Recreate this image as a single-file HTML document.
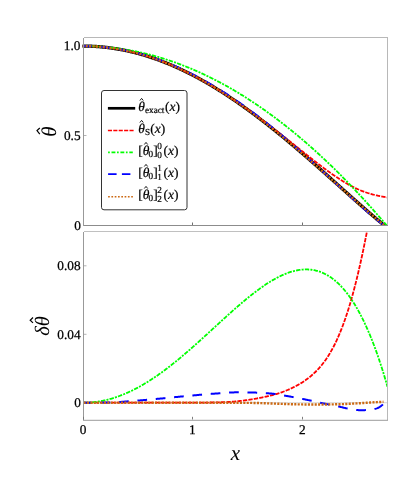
<!DOCTYPE html>
<html><head><meta charset="utf-8">
<style>
html,body{margin:0;padding:0;background:#fff;}
body{width:407px;height:499px;overflow:hidden;font-family:"Liberation Serif",serif;}
svg{display:block;will-change:transform;transform:translateZ(0);}
text{text-rendering:geometricPrecision;}
text{font-family:"Liberation Serif",serif;fill:#000;}
.tk{font-size:13.3px;stroke:#000;stroke-width:0.25px;}
.it{font-style:italic;}
</style></head><body>
<svg width="407" height="499" viewBox="0 0 407 499">
<defs>
<clipPath id="ct"><rect x="82.3" y="37.5" width="305.4" height="188.6"/></clipPath>
<clipPath id="cb"><rect x="83.5" y="231.5" width="304" height="188.5"/></clipPath>
</defs>
<rect width="407" height="499" fill="#fff"/>
<!-- top panel curves -->
<g clip-path="url(#ct)" fill="none" stroke-linejoin="round">
<path d="M82.3,46.10 L83.50,46.10 L84.26,46.10 L85.01,46.11 L85.77,46.11 L86.53,46.12 L87.29,46.14 L88.04,46.15 L88.80,46.17 L89.56,46.19 L90.31,46.22 L91.07,46.24 L91.83,46.27 L92.58,46.31 L93.34,46.34 L94.10,46.38 L94.86,46.42 L95.61,46.47 L96.37,46.51 L97.13,46.56 L97.88,46.62 L98.64,46.67 L99.40,46.73 L100.16,46.79 L100.91,46.86 L101.67,46.93 L102.43,47.00 L103.18,47.07 L103.94,47.14 L104.70,47.22 L105.45,47.31 L106.21,47.39 L106.97,47.48 L107.73,47.57 L108.48,47.66 L109.24,47.76 L110.00,47.85 L110.75,47.96 L111.51,48.06 L112.27,48.17 L113.03,48.28 L113.78,48.39 L114.54,48.51 L115.30,48.63 L116.05,48.75 L116.81,48.87 L117.57,49.00 L118.33,49.13 L119.08,49.26 L119.84,49.40 L120.60,49.53 L121.35,49.68 L122.11,49.82 L122.87,49.97 L123.62,50.12 L124.38,50.27 L125.14,50.42 L125.90,50.58 L126.65,50.74 L127.41,50.91 L128.17,51.07 L128.92,51.24 L129.68,51.41 L130.44,51.59 L131.20,51.77 L131.95,51.95 L132.71,52.13 L133.47,52.32 L134.22,52.50 L134.98,52.70 L135.74,52.89 L136.49,53.09 L137.25,53.29 L138.01,53.49 L138.77,53.70 L139.52,53.90 L140.28,54.11 L141.04,54.33 L141.79,54.54 L142.55,54.76 L143.31,54.99 L144.07,55.21 L144.82,55.44 L145.58,55.67 L146.34,55.90 L147.09,56.14 L147.85,56.37 L148.61,56.62 L149.36,56.86 L150.12,57.11 L150.88,57.35 L151.64,57.61 L152.39,57.86 L153.15,58.12 L153.91,58.38 L154.66,58.64 L155.42,58.91 L156.18,59.17 L156.94,59.44 L157.69,59.72 L158.45,59.99 L159.21,60.27 L159.96,60.55 L160.72,60.84 L161.48,61.12 L162.24,61.41 L162.99,61.71 L163.75,62.00 L164.51,62.30 L165.26,62.60 L166.02,62.90 L166.78,63.20 L167.53,63.51 L168.29,63.82 L169.05,64.14 L169.81,64.45 L170.56,64.77 L171.32,65.09 L172.08,65.41 L172.83,65.74 L173.59,66.07 L174.35,66.40 L175.11,66.73 L175.86,67.07 L176.62,67.41 L177.38,67.75 L178.13,68.09 L178.89,68.44 L179.65,68.79 L180.40,69.14 L181.16,69.49 L181.92,69.85 L182.68,70.21 L183.43,70.57 L184.19,70.93 L184.95,71.30 L185.70,71.67 L186.46,72.04 L187.22,72.41 L187.98,72.79 L188.73,73.17 L189.49,73.55 L190.25,73.93 L191.00,74.32 L191.76,74.71 L192.52,75.10 L193.27,75.49 L194.03,75.89 L194.79,76.29 L195.55,76.69 L196.30,77.09 L197.06,77.50 L197.82,77.91 L198.57,78.32 L199.33,78.73 L200.09,79.14 L200.85,79.56 L201.60,79.98 L202.36,80.40 L203.12,80.83 L203.87,81.25 L204.63,81.68 L205.39,82.12 L206.14,82.55 L206.90,82.99 L207.66,83.42 L208.42,83.86 L209.17,84.31 L209.93,84.75 L210.69,85.20 L211.44,85.65 L212.20,86.10 L212.96,86.56 L213.72,87.01 L214.47,87.47 L215.23,87.93 L215.99,88.40 L216.74,88.86 L217.50,89.33 L218.26,89.80 L219.02,90.27 L219.77,90.75 L220.53,91.22 L221.29,91.70 L222.04,92.18 L222.80,92.67 L223.56,93.15 L224.31,93.64 L225.07,94.13 L225.83,94.62 L226.59,95.11 L227.34,95.61 L228.10,96.11 L228.86,96.61 L229.61,97.11 L230.37,97.61 L231.13,98.12 L231.89,98.63 L232.64,99.14 L233.40,99.65 L234.16,100.17 L234.91,100.68 L235.67,101.20 L236.43,101.72 L237.18,102.24 L237.94,102.77 L238.70,103.29 L239.46,103.82 L240.21,104.35 L240.97,104.88 L241.73,105.42 L242.48,105.95 L243.24,106.49 L244.00,107.03 L244.76,107.57 L245.51,108.12 L246.27,108.66 L247.03,109.21 L247.78,109.76 L248.54,110.31 L249.30,110.86 L250.05,111.42 L250.81,111.97 L251.57,112.53 L252.33,113.09 L253.08,113.65 L253.84,114.22 L254.60,114.78 L255.35,115.35 L256.11,115.92 L256.87,116.49 L257.63,117.06 L258.38,117.64 L259.14,118.21 L259.90,118.79 L260.65,119.37 L261.41,119.95 L262.17,120.53 L262.92,121.11 L263.68,121.70 L264.44,122.29 L265.20,122.88 L265.95,123.47 L266.71,124.06 L267.47,124.65 L268.22,125.25 L268.98,125.84 L269.74,126.44 L270.50,127.04 L271.25,127.64 L272.01,128.25 L272.77,128.85 L273.52,129.46 L274.28,130.06 L275.04,130.67 L275.80,131.28 L276.55,131.89 L277.31,132.51 L278.07,133.12 L278.82,133.74 L279.58,134.35 L280.34,134.97 L281.09,135.59 L281.85,136.21 L282.61,136.84 L283.37,137.46 L284.12,138.09 L284.88,138.71 L285.64,139.34 L286.39,139.97 L287.15,140.60 L287.91,141.23 L288.67,141.86 L289.42,142.50 L290.18,143.13 L290.94,143.77 L291.69,144.41 L292.45,145.04 L293.21,145.68 L293.96,146.32 L294.72,146.97 L295.48,147.61 L296.24,148.25 L296.99,148.90 L297.75,149.55 L298.51,150.19 L299.26,150.84 L300.02,151.49 L300.78,152.14 L301.54,152.79 L302.29,153.44 L303.05,154.10 L303.81,154.75 L304.56,155.41 L305.32,156.06 L306.08,156.72 L306.83,157.37 L307.59,158.03 L308.35,158.69 L309.11,159.35 L309.86,160.01 L310.62,160.67 L311.38,161.34 L312.13,162.00 L312.89,162.66 L313.65,163.33 L314.41,163.99 L315.16,164.66 L315.92,165.33 L316.68,165.99 L317.43,166.66 L318.19,167.33 L318.95,168.00 L319.71,168.67 L320.46,169.34 L321.22,170.01 L321.98,170.68 L322.73,171.35 L323.49,172.02 L324.25,172.70 L325.00,173.37 L325.76,174.04 L326.52,174.72 L327.28,175.39 L328.03,176.07 L328.79,176.74 L329.55,177.42 L330.30,178.09 L331.06,178.77 L331.82,179.44 L332.58,180.12 L333.33,180.80 L334.09,181.47 L334.85,182.15 L335.60,182.83 L336.36,183.50 L337.12,184.18 L337.87,184.86 L338.63,185.54 L339.39,186.21 L340.15,186.89 L340.90,187.57 L341.66,188.25 L342.42,188.92 L343.17,189.60 L343.93,190.28 L344.69,190.95 L345.45,191.63 L346.20,192.31 L346.96,192.98 L347.72,193.66 L348.47,194.34 L349.23,195.01 L349.99,195.69 L350.74,196.36 L351.50,197.04 L352.26,197.71 L353.02,198.39 L353.77,199.06 L354.53,199.73 L355.29,200.41 L356.04,201.08 L356.80,201.75 L357.56,202.42 L358.32,203.09 L359.07,203.76 L359.83,204.43 L360.59,205.10 L361.34,205.77 L362.10,206.43 L362.86,207.10 L363.61,207.76 L364.37,208.43 L365.13,209.09 L365.89,209.75 L366.64,210.42 L367.40,211.08 L368.16,211.74 L368.91,212.39 L369.67,213.05 L370.43,213.71 L371.19,214.36 L371.94,215.01 L372.70,215.67 L373.46,216.32 L374.21,216.97 L374.97,217.61 L375.73,218.26 L376.49,218.90 L377.24,219.55 L378.00,220.19 L378.76,220.83 L379.51,221.46 L380.27,222.10 L381.03,222.73 L381.78,223.36 L382.54,223.99 L383.30,224.62 L384.06,225.24 L384.81,225.86 L385.57,226.48" stroke="#000" stroke-width="3.3"/>
<path d="M82.3,46.10 L83.50,46.10 L84.26,46.10 L85.02,46.11 L85.79,46.11 L86.55,46.12 L87.31,46.14 L88.07,46.15 L88.83,46.17 L89.60,46.19 L90.36,46.22 L91.12,46.25 L91.88,46.28 L92.64,46.31 L93.40,46.35 L94.17,46.38 L94.93,46.43 L95.69,46.47 L96.45,46.52 L97.21,46.57 L97.98,46.62 L98.74,46.68 L99.50,46.74 L100.26,46.80 L101.02,46.87 L101.79,46.94 L102.55,47.01 L103.31,47.08 L104.07,47.16 L104.83,47.24 L105.60,47.32 L106.36,47.41 L107.12,47.49 L107.88,47.59 L108.64,47.68 L109.40,47.78 L110.17,47.88 L110.93,47.98 L111.69,48.09 L112.45,48.19 L113.21,48.31 L113.98,48.42 L114.74,48.54 L115.50,48.66 L116.26,48.78 L117.02,48.91 L117.79,49.03 L118.55,49.17 L119.31,49.30 L120.07,49.44 L120.83,49.58 L121.60,49.72 L122.36,49.87 L123.12,50.02 L123.88,50.17 L124.64,50.32 L125.40,50.48 L126.17,50.64 L126.93,50.80 L127.69,50.97 L128.45,51.14 L129.21,51.31 L129.98,51.48 L130.74,51.66 L131.50,51.84 L132.26,52.02 L133.02,52.21 L133.79,52.40 L134.55,52.59 L135.31,52.78 L136.07,52.98 L136.83,53.18 L137.60,53.38 L138.36,53.58 L139.12,53.79 L139.88,54.00 L140.64,54.22 L141.40,54.43 L142.17,54.65 L142.93,54.87 L143.69,55.10 L144.45,55.33 L145.21,55.56 L145.98,55.79 L146.74,56.02 L147.50,56.26 L148.26,56.50 L149.02,56.75 L149.79,57.00 L150.55,57.24 L151.31,57.50 L152.07,57.75 L152.83,58.01 L153.60,58.27 L154.36,58.53 L155.12,58.80 L155.88,59.07 L156.64,59.34 L157.40,59.61 L158.17,59.89 L158.93,60.17 L159.69,60.45 L160.45,60.74 L161.21,61.02 L161.98,61.31 L162.74,61.61 L163.50,61.90 L164.26,62.20 L165.02,62.50 L165.79,62.80 L166.55,63.11 L167.31,63.42 L168.07,63.73 L168.83,64.05 L169.60,64.36 L170.36,64.68 L171.12,65.00 L171.88,65.33 L172.64,65.65 L173.40,65.98 L174.17,66.32 L174.93,66.65 L175.69,66.99 L176.45,67.33 L177.21,67.67 L177.98,68.02 L178.74,68.37 L179.50,68.72 L180.26,69.07 L181.02,69.43 L181.79,69.78 L182.55,70.14 L183.31,70.51 L184.07,70.87 L184.83,71.24 L185.60,71.61 L186.36,71.99 L187.12,72.36 L187.88,72.74 L188.64,73.12 L189.40,73.50 L190.17,73.89 L190.93,74.28 L191.69,74.67 L192.45,75.06 L193.21,75.46 L193.98,75.85 L194.74,76.26 L195.50,76.66 L196.26,77.06 L197.02,77.47 L197.79,77.88 L198.55,78.29 L199.31,78.71 L200.07,79.13 L200.83,79.55 L201.60,79.97 L202.36,80.39 L203.12,80.82 L203.88,81.25 L204.64,81.68 L205.40,82.11 L206.17,82.55 L206.93,82.99 L207.69,83.43 L208.45,83.87 L209.21,84.31 L209.98,84.76 L210.74,85.21 L211.50,85.66 L212.26,86.12 L213.02,86.57 L213.79,87.03 L214.55,87.49 L215.31,87.95 L216.07,88.42 L216.83,88.89 L217.60,89.36 L218.36,89.83 L219.12,90.30 L219.88,90.78 L220.64,91.25 L221.40,91.73 L222.17,92.21 L222.93,92.70 L223.69,93.18 L224.45,93.67 L225.21,94.16 L225.98,94.65 L226.74,95.15 L227.50,95.64 L228.26,96.14 L229.02,96.64 L229.79,97.14 L230.55,97.64 L231.31,98.15 L232.07,98.65 L232.83,99.16 L233.60,99.67 L234.36,100.18 L235.12,100.69 L235.88,101.21 L236.64,101.73 L237.40,102.24 L238.17,102.76 L238.93,103.29 L239.69,103.81 L240.45,104.33 L241.21,104.86 L241.98,105.39 L242.74,105.92 L243.50,106.45 L244.26,106.98 L245.02,107.52 L245.79,108.06 L246.55,108.59 L247.31,109.13 L248.07,109.68 L248.83,110.22 L249.60,110.76 L250.36,111.31 L251.12,111.86 L251.88,112.41 L252.64,112.96 L253.40,113.51 L254.17,114.07 L254.93,114.62 L255.69,115.18 L256.45,115.74 L257.21,116.30 L257.98,116.86 L258.74,117.42 L259.50,117.99 L260.26,118.56 L261.02,119.12 L261.79,119.69 L262.55,120.26 L263.31,120.84 L264.07,121.41 L264.83,121.98 L265.60,122.56 L266.36,123.14 L267.12,123.72 L267.88,124.30 L268.64,124.88 L269.40,125.46 L270.17,126.04 L270.93,126.63 L271.69,127.21 L272.45,127.80 L273.21,128.39 L273.98,128.98 L274.74,129.57 L275.50,130.16 L276.26,130.75 L277.02,131.34 L277.79,131.94 L278.55,132.53 L279.31,133.13 L280.07,133.72 L280.83,134.32 L281.60,134.92 L282.36,135.51 L283.12,136.11 L283.88,136.71 L284.64,137.31 L285.40,137.91 L286.17,138.51 L286.93,139.11 L287.69,139.72 L288.45,140.32 L289.21,140.92 L289.98,141.53 L290.74,142.13 L291.50,142.73 L292.26,143.34 L293.02,143.94 L293.79,144.55 L294.55,145.15 L295.31,145.76 L296.07,146.36 L296.83,146.97 L297.60,147.58 L298.36,148.18 L299.12,148.79 L299.88,149.39 L300.64,150.00 L301.40,150.61 L302.17,151.21 L302.93,151.82 L303.69,152.42 L304.45,153.03 L305.21,153.63 L305.98,154.24 L306.74,154.84 L307.50,155.44 L308.26,156.05 L309.02,156.65 L309.79,157.25 L310.55,157.85 L311.31,158.45 L312.07,159.05 L312.83,159.65 L313.60,160.24 L314.36,160.84 L315.12,161.43 L315.88,162.02 L316.64,162.62 L317.40,163.21 L318.17,163.79 L318.93,164.38 L319.69,164.96 L320.45,165.55 L321.21,166.13 L321.98,166.70 L322.74,167.28 L323.50,167.85 L324.26,168.42 L325.02,168.99 L325.79,169.56 L326.55,170.12 L327.31,170.68 L328.07,171.23 L328.83,171.79 L329.60,172.34 L330.36,172.88 L331.12,173.42 L331.88,173.96 L332.64,174.50 L333.40,175.03 L334.17,175.55 L334.93,176.07 L335.69,176.59 L336.45,177.11 L337.21,177.61 L337.98,178.12 L338.74,178.62 L339.50,179.11 L340.26,179.60 L341.02,180.09 L341.79,180.57 L342.55,181.04 L343.31,181.51 L344.07,181.97 L344.83,182.43 L345.60,182.88 L346.36,183.32 L347.12,183.76 L347.88,184.19 L348.64,184.62 L349.40,185.04 L350.17,185.45 L350.93,185.86 L351.69,186.26 L352.45,186.65 L353.21,187.04 L353.98,187.42 L354.74,187.79 L355.50,188.16 L356.26,188.51 L357.02,188.86 L357.79,189.21 L358.55,189.54 L359.31,189.87 L360.07,190.19 L360.83,190.51 L361.60,190.82 L362.36,191.12 L363.12,191.41 L363.88,191.69 L364.64,191.97 L365.40,192.24 L366.17,192.50 L366.93,192.76 L367.69,193.01 L368.45,193.25 L369.21,193.48 L369.98,193.71 L370.74,193.93 L371.50,194.14 L372.26,194.35 L373.02,194.55 L373.79,194.75 L374.55,194.93 L375.31,195.12 L376.07,195.30 L376.83,195.47 L377.60,195.63 L378.36,195.80 L379.12,195.95 L379.88,196.11 L380.64,196.26 L381.40,196.40 L382.17,196.55 L382.93,196.68 L383.69,196.82 L384.45,196.95 L385.21,197.09 L385.98,197.22 L386.74,197.36 L387.50,197.50" stroke="#ff0000" stroke-width="1.8" stroke-dasharray="4.3 1.2"/>
<path d="M82.3,46.10 L83.50,46.10 L84.26,46.10 L85.02,46.10 L85.79,46.11 L86.55,46.12 L87.31,46.13 L88.07,46.14 L88.83,46.16 L89.60,46.17 L90.36,46.19 L91.12,46.21 L91.88,46.24 L92.64,46.26 L93.40,46.29 L94.17,46.32 L94.93,46.35 L95.69,46.39 L96.45,46.43 L97.21,46.47 L97.98,46.51 L98.74,46.55 L99.50,46.60 L100.26,46.65 L101.02,46.70 L101.79,46.75 L102.55,46.81 L103.31,46.87 L104.07,46.93 L104.83,46.99 L105.60,47.05 L106.36,47.12 L107.12,47.19 L107.88,47.26 L108.64,47.33 L109.40,47.41 L110.17,47.49 L110.93,47.57 L111.69,47.65 L112.45,47.73 L113.21,47.82 L113.98,47.91 L114.74,48.00 L115.50,48.10 L116.26,48.19 L117.02,48.29 L117.79,48.39 L118.55,48.50 L119.31,48.60 L120.07,48.71 L120.83,48.82 L121.60,48.93 L122.36,49.05 L123.12,49.16 L123.88,49.28 L124.64,49.40 L125.40,49.53 L126.17,49.65 L126.93,49.78 L127.69,49.91 L128.45,50.04 L129.21,50.18 L129.98,50.31 L130.74,50.45 L131.50,50.59 L132.26,50.74 L133.02,50.88 L133.79,51.03 L134.55,51.18 L135.31,51.34 L136.07,51.49 L136.83,51.65 L137.60,51.81 L138.36,51.97 L139.12,52.13 L139.88,52.30 L140.64,52.47 L141.40,52.64 L142.17,52.81 L142.93,52.99 L143.69,53.17 L144.45,53.35 L145.21,53.53 L145.98,53.72 L146.74,53.90 L147.50,54.09 L148.26,54.28 L149.02,54.48 L149.79,54.67 L150.55,54.87 L151.31,55.07 L152.07,55.27 L152.83,55.48 L153.60,55.69 L154.36,55.90 L155.12,56.11 L155.88,56.32 L156.64,56.54 L157.40,56.76 L158.17,56.98 L158.93,57.20 L159.69,57.43 L160.45,57.65 L161.21,57.88 L161.98,58.12 L162.74,58.35 L163.50,58.59 L164.26,58.83 L165.02,59.07 L165.79,59.31 L166.55,59.56 L167.31,59.81 L168.07,60.06 L168.83,60.31 L169.60,60.57 L170.36,60.82 L171.12,61.08 L171.88,61.34 L172.64,61.61 L173.40,61.87 L174.17,62.14 L174.93,62.41 L175.69,62.69 L176.45,62.96 L177.21,63.24 L177.98,63.52 L178.74,63.80 L179.50,64.09 L180.26,64.37 L181.02,64.66 L181.79,64.95 L182.55,65.25 L183.31,65.54 L184.07,65.84 L184.83,66.14 L185.60,66.44 L186.36,66.75 L187.12,67.06 L187.88,67.37 L188.64,67.68 L189.40,67.99 L190.17,68.31 L190.93,68.63 L191.69,68.95 L192.45,69.27 L193.21,69.60 L193.98,69.92 L194.74,70.25 L195.50,70.59 L196.26,70.92 L197.02,71.26 L197.79,71.60 L198.55,71.94 L199.31,72.28 L200.07,72.63 L200.83,72.97 L201.60,73.32 L202.36,73.68 L203.12,74.03 L203.88,74.39 L204.64,74.75 L205.40,75.11 L206.17,75.47 L206.93,75.84 L207.69,76.21 L208.45,76.58 L209.21,76.95 L209.98,77.33 L210.74,77.70 L211.50,78.08 L212.26,78.47 L213.02,78.85 L213.79,79.24 L214.55,79.63 L215.31,80.02 L216.07,80.41 L216.83,80.81 L217.60,81.20 L218.36,81.60 L219.12,82.01 L219.88,82.41 L220.64,82.82 L221.40,83.23 L222.17,83.64 L222.93,84.05 L223.69,84.47 L224.45,84.89 L225.21,85.31 L225.98,85.73 L226.74,86.15 L227.50,86.58 L228.26,87.01 L229.02,87.44 L229.79,87.88 L230.55,88.31 L231.31,88.75 L232.07,89.19 L232.83,89.64 L233.60,90.08 L234.36,90.53 L235.12,90.98 L235.88,91.43 L236.64,91.89 L237.40,92.34 L238.17,92.80 L238.93,93.26 L239.69,93.73 L240.45,94.19 L241.21,94.66 L241.98,95.13 L242.74,95.60 L243.50,96.08 L244.26,96.55 L245.02,97.03 L245.79,97.51 L246.55,98.00 L247.31,98.48 L248.07,98.97 L248.83,99.46 L249.60,99.96 L250.36,100.45 L251.12,100.95 L251.88,101.45 L252.64,101.95 L253.40,102.45 L254.17,102.96 L254.93,103.47 L255.69,103.98 L256.45,104.49 L257.21,105.01 L257.98,105.53 L258.74,106.05 L259.50,106.57 L260.26,107.09 L261.02,107.62 L261.79,108.15 L262.55,108.68 L263.31,109.21 L264.07,109.75 L264.83,110.29 L265.60,110.83 L266.36,111.37 L267.12,111.91 L267.88,112.46 L268.64,113.01 L269.40,113.56 L270.17,114.11 L270.93,114.67 L271.69,115.23 L272.45,115.79 L273.21,116.35 L273.98,116.92 L274.74,117.48 L275.50,118.05 L276.26,118.62 L277.02,119.20 L277.79,119.77 L278.55,120.35 L279.31,120.93 L280.07,121.52 L280.83,122.10 L281.60,122.69 L282.36,123.28 L283.12,123.87 L283.88,124.46 L284.64,125.06 L285.40,125.66 L286.17,126.26 L286.93,126.86 L287.69,127.47 L288.45,128.08 L289.21,128.69 L289.98,129.30 L290.74,129.91 L291.50,130.53 L292.26,131.15 L293.02,131.77 L293.79,132.39 L294.55,133.02 L295.31,133.65 L296.07,134.28 L296.83,134.91 L297.60,135.55 L298.36,136.18 L299.12,136.82 L299.88,137.46 L300.64,138.11 L301.40,138.75 L302.17,139.40 L302.93,140.05 L303.69,140.70 L304.45,141.36 L305.21,142.02 L305.98,142.68 L306.74,143.34 L307.50,144.00 L308.26,144.67 L309.02,145.34 L309.79,146.01 L310.55,146.68 L311.31,147.36 L312.07,148.04 L312.83,148.72 L313.60,149.40 L314.36,150.08 L315.12,150.77 L315.88,151.46 L316.64,152.15 L317.40,152.84 L318.17,153.54 L318.93,154.24 L319.69,154.94 L320.45,155.64 L321.21,156.35 L321.98,157.05 L322.74,157.76 L323.50,158.48 L324.26,159.19 L325.02,159.91 L325.79,160.63 L326.55,161.35 L327.31,162.07 L328.07,162.80 L328.83,163.52 L329.60,164.25 L330.36,164.99 L331.12,165.72 L331.88,166.46 L332.64,167.20 L333.40,167.94 L334.17,168.68 L334.93,169.43 L335.69,170.18 L336.45,170.93 L337.21,171.68 L337.98,172.44 L338.74,173.20 L339.50,173.96 L340.26,174.72 L341.02,175.48 L341.79,176.25 L342.55,177.02 L343.31,177.79 L344.07,178.56 L344.83,179.34 L345.60,180.12 L346.36,180.90 L347.12,181.68 L347.88,182.47 L348.64,183.26 L349.40,184.05 L350.17,184.84 L350.93,185.63 L351.69,186.43 L352.45,187.23 L353.21,188.03 L353.98,188.83 L354.74,189.64 L355.50,190.45 L356.26,191.26 L357.02,192.07 L357.79,192.89 L358.55,193.71 L359.31,194.53 L360.07,195.35 L360.83,196.17 L361.60,197.00 L362.36,197.83 L363.12,198.66 L363.88,199.49 L364.64,200.33 L365.40,201.17 L366.17,202.01 L366.93,202.85 L367.69,203.69 L368.45,204.54 L369.21,205.39 L369.98,206.24 L370.74,207.10 L371.50,207.95 L372.26,208.81 L373.02,209.67 L373.79,210.53 L374.55,211.40 L375.31,212.26 L376.07,213.13 L376.83,214.00 L377.60,214.87 L378.36,215.75 L379.12,216.63 L379.88,217.50 L380.64,218.38 L381.40,219.27 L382.17,220.15 L382.93,221.04 L383.69,221.92 L384.45,222.81 L385.21,223.70 L385.98,224.60 L386.74,225.50 L387.50,226.40" stroke="#00ff00" stroke-width="1.8" stroke-dasharray="4.4 1.2 2.0 1.2"/>
<path d="M82.3,46.10 L83.50,46.10 L84.26,46.10 L85.02,46.11 L85.79,46.11 L86.55,46.12 L87.31,46.14 L88.07,46.15 L88.83,46.17 L89.60,46.19 L90.36,46.22 L91.12,46.24 L91.88,46.27 L92.64,46.31 L93.40,46.34 L94.17,46.38 L94.93,46.42 L95.69,46.47 L96.45,46.51 L97.21,46.56 L97.98,46.62 L98.74,46.67 L99.50,46.73 L100.26,46.79 L101.02,46.86 L101.79,46.93 L102.55,47.00 L103.31,47.07 L104.07,47.15 L104.83,47.22 L105.60,47.31 L106.36,47.39 L107.12,47.48 L107.88,47.57 L108.64,47.66 L109.40,47.76 L110.17,47.86 L110.93,47.96 L111.69,48.06 L112.45,48.17 L113.21,48.28 L113.98,48.39 L114.74,48.50 L115.50,48.62 L116.26,48.73 L117.02,48.85 L117.79,48.98 L118.55,49.10 L119.31,49.23 L120.07,49.36 L120.83,49.50 L121.60,49.63 L122.36,49.77 L123.12,49.92 L123.88,50.06 L124.64,50.21 L125.40,50.36 L126.17,50.51 L126.93,50.67 L127.69,50.83 L128.45,50.99 L129.21,51.16 L129.98,51.32 L130.74,51.50 L131.50,51.67 L132.26,51.85 L133.02,52.03 L133.79,52.21 L134.55,52.39 L135.31,52.58 L136.07,52.77 L136.83,52.96 L137.60,53.16 L138.36,53.36 L139.12,53.56 L139.88,53.76 L140.64,53.97 L141.40,54.18 L142.17,54.39 L142.93,54.61 L143.69,54.82 L144.45,55.05 L145.21,55.27 L145.98,55.49 L146.74,55.72 L147.50,55.95 L148.26,56.19 L149.02,56.43 L149.79,56.67 L150.55,56.91 L151.31,57.15 L152.07,57.40 L152.83,57.65 L153.60,57.90 L154.36,58.16 L155.12,58.42 L155.88,58.68 L156.64,58.94 L157.40,59.21 L158.17,59.48 L158.93,59.75 L159.69,60.03 L160.45,60.30 L161.21,60.58 L161.98,60.87 L162.74,61.15 L163.50,61.44 L164.26,61.73 L165.02,62.02 L165.79,62.32 L166.55,62.62 L167.31,62.92 L168.07,63.22 L168.83,63.53 L169.60,63.84 L170.36,64.15 L171.12,64.46 L171.88,64.78 L172.64,65.10 L173.40,65.42 L174.17,65.74 L174.93,66.07 L175.69,66.40 L176.45,66.73 L177.21,67.07 L177.98,67.41 L178.74,67.75 L179.50,68.09 L180.26,68.43 L181.02,68.78 L181.79,69.13 L182.55,69.49 L183.31,69.84 L184.07,70.20 L184.83,70.56 L185.60,70.92 L186.36,71.29 L187.12,71.66 L187.88,72.03 L188.64,72.40 L189.40,72.78 L190.17,73.16 L190.93,73.54 L191.69,73.92 L192.45,74.31 L193.21,74.70 L193.98,75.09 L194.74,75.48 L195.50,75.88 L196.26,76.28 L197.02,76.68 L197.79,77.08 L198.55,77.49 L199.31,77.90 L200.07,78.31 L200.83,78.72 L201.60,79.13 L202.36,79.55 L203.12,79.97 L203.88,80.40 L204.64,80.82 L205.40,81.25 L206.17,81.68 L206.93,82.11 L207.69,82.55 L208.45,82.98 L209.21,83.42 L209.98,83.87 L210.74,84.31 L211.50,84.76 L212.26,85.21 L213.02,85.66 L213.79,86.11 L214.55,86.57 L215.31,87.03 L216.07,87.49 L216.83,87.95 L217.60,88.42 L218.36,88.89 L219.12,89.36 L219.88,89.83 L220.64,90.30 L221.40,90.78 L222.17,91.26 L222.93,91.74 L223.69,92.22 L224.45,92.70 L225.21,93.19 L225.98,93.68 L226.74,94.17 L227.50,94.67 L228.26,95.16 L229.02,95.66 L229.79,96.16 L230.55,96.67 L231.31,97.17 L232.07,97.68 L232.83,98.19 L233.60,98.71 L234.36,99.22 L235.12,99.74 L235.88,100.26 L236.64,100.78 L237.40,101.31 L238.17,101.83 L238.93,102.36 L239.69,102.90 L240.45,103.43 L241.21,103.97 L241.98,104.51 L242.74,105.05 L243.50,105.59 L244.26,106.14 L245.02,106.68 L245.79,107.23 L246.55,107.78 L247.31,108.34 L248.07,108.89 L248.83,109.45 L249.60,110.01 L250.36,110.57 L251.12,111.13 L251.88,111.70 L252.64,112.26 L253.40,112.83 L254.17,113.40 L254.93,113.97 L255.69,114.55 L256.45,115.12 L257.21,115.70 L257.98,116.28 L258.74,116.86 L259.50,117.45 L260.26,118.03 L261.02,118.62 L261.79,119.21 L262.55,119.80 L263.31,120.39 L264.07,120.99 L264.83,121.58 L265.60,122.18 L266.36,122.78 L267.12,123.39 L267.88,123.99 L268.64,124.60 L269.40,125.20 L270.17,125.81 L270.93,126.42 L271.69,127.04 L272.45,127.65 L273.21,128.27 L273.98,128.89 L274.74,129.51 L275.50,130.14 L276.26,130.76 L277.02,131.39 L277.79,132.02 L278.55,132.66 L279.31,133.29 L280.07,133.93 L280.83,134.57 L281.60,135.20 L282.36,135.84 L283.12,136.49 L283.88,137.13 L284.64,137.77 L285.40,138.42 L286.17,139.06 L286.93,139.71 L287.69,140.36 L288.45,141.01 L289.21,141.66 L289.98,142.32 L290.74,142.97 L291.50,143.63 L292.26,144.28 L293.02,144.94 L293.79,145.60 L294.55,146.26 L295.31,146.92 L296.07,147.59 L296.83,148.25 L297.60,148.92 L298.36,149.58 L299.12,150.25 L299.88,150.92 L300.64,151.59 L301.40,152.26 L302.17,152.93 L302.93,153.61 L303.69,154.28 L304.45,154.96 L305.21,155.63 L305.98,156.31 L306.74,156.99 L307.50,157.67 L308.26,158.35 L309.02,159.03 L309.79,159.71 L310.55,160.39 L311.31,161.08 L312.07,161.76 L312.83,162.45 L313.60,163.13 L314.36,163.82 L315.12,164.51 L315.88,165.20 L316.64,165.89 L317.40,166.58 L318.17,167.27 L318.93,167.96 L319.69,168.65 L320.45,169.34 L321.21,170.03 L321.98,170.73 L322.74,171.42 L323.50,172.11 L324.26,172.80 L325.02,173.49 L325.79,174.19 L326.55,174.88 L327.31,175.58 L328.07,176.27 L328.83,176.96 L329.60,177.66 L330.36,178.36 L331.12,179.05 L331.88,179.75 L332.64,180.44 L333.40,181.14 L334.17,181.84 L334.93,182.53 L335.69,183.23 L336.45,183.93 L337.21,184.63 L337.98,185.33 L338.74,186.03 L339.50,186.73 L340.26,187.43 L341.02,188.13 L341.79,188.83 L342.55,189.53 L343.31,190.23 L344.07,190.94 L344.83,191.64 L345.60,192.34 L346.36,193.03 L347.12,193.73 L347.88,194.43 L348.64,195.12 L349.40,195.82 L350.17,196.51 L350.93,197.20 L351.69,197.89 L352.45,198.59 L353.21,199.28 L353.98,199.97 L354.74,200.66 L355.50,201.34 L356.26,202.03 L357.02,202.71 L357.79,203.40 L358.55,204.08 L359.31,204.75 L360.07,205.43 L360.83,206.10 L361.60,206.77 L362.36,207.44 L363.12,208.11 L363.88,208.78 L364.64,209.44 L365.40,210.11 L366.17,210.77 L366.93,211.43 L367.69,212.10 L368.45,212.75 L369.21,213.41 L369.98,214.07 L370.74,214.72 L371.50,215.37 L372.26,216.01 L373.02,216.65 L373.79,217.29 L374.55,217.92 L375.31,218.55 L376.07,219.17 L376.83,219.79 L377.60,220.41 L378.36,221.01 L379.12,221.61 L379.88,222.20 L380.64,222.78 L381.40,223.36 L382.17,223.93 L382.93,224.49 L383.69,224.94 L384.45,225.57 L385.21,226.19 L385.98,226.82 L386.74,227.44 L387.50,228.07" stroke="#0000ff" stroke-width="2" stroke-dasharray="9.7 8.7"/>
<path d="M82.3,46.10 L83.50,46.10 L84.26,46.10 L85.02,46.11 L85.79,46.11 L86.55,46.12 L87.31,46.14 L88.07,46.15 L88.83,46.17 L89.60,46.19 L90.36,46.22 L91.12,46.25 L91.88,46.28 L92.64,46.31 L93.40,46.35 L94.17,46.38 L94.93,46.43 L95.69,46.47 L96.45,46.52 L97.21,46.57 L97.98,46.62 L98.74,46.68 L99.50,46.74 L100.26,46.80 L101.02,46.87 L101.79,46.94 L102.55,47.01 L103.31,47.08 L104.07,47.16 L104.83,47.24 L105.60,47.32 L106.36,47.41 L107.12,47.49 L107.88,47.59 L108.64,47.68 L109.40,47.78 L110.17,47.88 L110.93,47.98 L111.69,48.09 L112.45,48.19 L113.21,48.31 L113.98,48.42 L114.74,48.54 L115.50,48.66 L116.26,48.78 L117.02,48.91 L117.79,49.03 L118.55,49.17 L119.31,49.30 L120.07,49.44 L120.83,49.58 L121.60,49.72 L122.36,49.87 L123.12,50.02 L123.88,50.17 L124.64,50.32 L125.40,50.48 L126.17,50.64 L126.93,50.80 L127.69,50.97 L128.45,51.14 L129.21,51.31 L129.98,51.48 L130.74,51.66 L131.50,51.84 L132.26,52.02 L133.02,52.21 L133.79,52.40 L134.55,52.59 L135.31,52.78 L136.07,52.98 L136.83,53.18 L137.60,53.38 L138.36,53.58 L139.12,53.79 L139.88,54.00 L140.64,54.22 L141.40,54.43 L142.17,54.65 L142.93,54.87 L143.69,55.10 L144.45,55.33 L145.21,55.56 L145.98,55.79 L146.74,56.02 L147.50,56.26 L148.26,56.50 L149.02,56.75 L149.79,57.00 L150.55,57.25 L151.31,57.50 L152.07,57.75 L152.83,58.01 L153.60,58.27 L154.36,58.53 L155.12,58.80 L155.88,59.07 L156.64,59.34 L157.40,59.61 L158.17,59.89 L158.93,60.17 L159.69,60.45 L160.45,60.74 L161.21,61.02 L161.98,61.31 L162.74,61.61 L163.50,61.90 L164.26,62.20 L165.02,62.50 L165.79,62.81 L166.55,63.11 L167.31,63.42 L168.07,63.73 L168.83,64.05 L169.60,64.36 L170.36,64.68 L171.12,65.00 L171.88,65.33 L172.64,65.66 L173.40,65.99 L174.17,66.32 L174.93,66.65 L175.69,66.99 L176.45,67.33 L177.21,67.67 L177.98,68.02 L178.74,68.37 L179.50,68.72 L180.26,69.07 L181.02,69.43 L181.79,69.79 L182.55,70.15 L183.31,70.51 L184.07,70.88 L184.83,71.24 L185.60,71.61 L186.36,71.99 L187.12,72.36 L187.88,72.74 L188.64,73.12 L189.40,73.51 L190.17,73.89 L190.93,74.28 L191.69,74.67 L192.45,75.07 L193.21,75.46 L193.98,75.86 L194.74,76.26 L195.50,76.66 L196.26,77.07 L197.02,77.48 L197.79,77.89 L198.55,78.30 L199.31,78.72 L200.07,79.13 L200.83,79.55 L201.60,79.98 L202.36,80.40 L203.12,80.83 L203.88,81.26 L204.64,81.69 L205.40,82.13 L206.17,82.56 L206.93,83.00 L207.69,83.44 L208.45,83.89 L209.21,84.33 L209.98,84.78 L210.74,85.23 L211.50,85.69 L212.26,86.14 L213.02,86.60 L213.79,87.06 L214.55,87.52 L215.31,87.99 L216.07,88.45 L216.83,88.92 L217.60,89.39 L218.36,89.87 L219.12,90.34 L219.88,90.82 L220.64,91.30 L221.40,91.78 L222.17,92.27 L222.93,92.75 L223.69,93.24 L224.45,93.73 L225.21,94.23 L225.98,94.72 L226.74,95.22 L227.50,95.72 L228.26,96.22 L229.02,96.73 L229.79,97.23 L230.55,97.74 L231.31,98.25 L232.07,98.76 L232.83,99.28 L233.60,99.79 L234.36,100.31 L235.12,100.83 L235.88,101.36 L236.64,101.88 L237.40,102.41 L238.17,102.94 L238.93,103.47 L239.69,104.00 L240.45,104.53 L241.21,105.07 L241.98,105.61 L242.74,106.15 L243.50,106.69 L244.26,107.24 L245.02,107.78 L245.79,108.33 L246.55,108.88 L247.31,109.43 L248.07,109.99 L248.83,110.54 L249.60,111.10 L250.36,111.66 L251.12,112.22 L251.88,112.78 L252.64,113.35 L253.40,113.92 L254.17,114.49 L254.93,115.06 L255.69,115.63 L256.45,116.21 L257.21,116.78 L257.98,117.36 L258.74,117.94 L259.50,118.53 L260.26,119.11 L261.02,119.70 L261.79,120.28 L262.55,120.87 L263.31,121.46 L264.07,122.06 L264.83,122.65 L265.60,123.25 L266.36,123.85 L267.12,124.45 L267.88,125.05 L268.64,125.65 L269.40,126.25 L270.17,126.86 L270.93,127.47 L271.69,128.08 L272.45,128.69 L273.21,129.30 L273.98,129.91 L274.74,130.53 L275.50,131.14 L276.26,131.76 L277.02,132.38 L277.79,133.00 L278.55,133.62 L279.31,134.25 L280.07,134.87 L280.83,135.50 L281.60,136.12 L282.36,136.75 L283.12,137.38 L283.88,138.01 L284.64,138.65 L285.40,139.28 L286.17,139.92 L286.93,140.55 L287.69,141.19 L288.45,141.83 L289.21,142.47 L289.98,143.11 L290.74,143.76 L291.50,144.40 L292.26,145.05 L293.02,145.69 L293.79,146.34 L294.55,146.99 L295.31,147.64 L296.07,148.29 L296.83,148.94 L297.60,149.59 L298.36,150.24 L299.12,150.89 L299.88,151.55 L300.64,152.20 L301.40,152.86 L302.17,153.51 L302.93,154.17 L303.69,154.83 L304.45,155.49 L305.21,156.15 L305.98,156.81 L306.74,157.47 L307.50,158.14 L308.26,158.80 L309.02,159.47 L309.79,160.13 L310.55,160.80 L311.31,161.46 L312.07,162.13 L312.83,162.80 L313.60,163.47 L314.36,164.14 L315.12,164.81 L315.88,165.48 L316.64,166.15 L317.40,166.82 L318.17,167.50 L318.93,168.17 L319.69,168.84 L320.45,169.52 L321.21,170.19 L321.98,170.87 L322.74,171.54 L323.50,172.22 L324.26,172.90 L325.02,173.57 L325.79,174.25 L326.55,174.93 L327.31,175.60 L328.07,176.28 L328.83,176.96 L329.60,177.64 L330.36,178.32 L331.12,179.00 L331.88,179.67 L332.64,180.35 L333.40,181.03 L334.17,181.71 L334.93,182.39 L335.69,183.07 L336.45,183.75 L337.21,184.43 L337.98,185.11 L338.74,185.79 L339.50,186.47 L340.26,187.15 L341.02,187.83 L341.79,188.51 L342.55,189.19 L343.31,189.87 L344.07,190.55 L344.83,191.22 L345.60,191.90 L346.36,192.58 L347.12,193.26 L347.88,193.93 L348.64,194.61 L349.40,195.29 L350.17,195.96 L350.93,196.64 L351.69,197.31 L352.45,197.98 L353.21,198.66 L353.98,199.33 L354.74,200.00 L355.50,200.68 L356.26,201.35 L357.02,202.02 L357.79,202.69 L358.55,203.36 L359.31,204.03 L360.07,204.70 L360.83,205.36 L361.60,206.03 L362.36,206.70 L363.12,207.36 L363.88,208.02 L364.64,208.69 L365.40,209.35 L366.17,210.01 L366.93,210.67 L367.69,211.33 L368.45,211.98 L369.21,212.64 L369.98,213.30 L370.74,213.95 L371.50,214.60 L372.26,215.26 L373.02,215.91 L373.79,216.56 L374.55,217.20 L375.31,217.85 L376.07,218.50 L376.83,219.14 L377.60,219.78 L378.36,220.42 L379.12,221.06 L379.88,221.70 L380.64,222.33 L381.40,222.96 L382.17,223.59 L382.93,224.22 L383.69,224.94 L384.45,225.57 L385.21,226.19 L385.98,226.82 L386.74,227.44 L387.50,228.07" stroke="#cc6a14" stroke-width="2.4" stroke-dasharray="2.1 1.3"/>
</g>
<!-- bottom panel curves -->
<line x1="83.5" y1="402.7" x2="387.5" y2="402.7" stroke="#d8d8d8" stroke-width="1"/>
<g clip-path="url(#cb)" fill="none" stroke-linejoin="round">
<path d="M83.50,402.70 L84.26,402.70 L85.02,402.70 L85.79,402.70 L86.55,402.70 L87.31,402.70 L88.07,402.70 L88.83,402.70 L89.60,402.70 L90.36,402.70 L91.12,402.70 L91.88,402.70 L92.64,402.70 L93.40,402.70 L94.17,402.70 L94.93,402.70 L95.69,402.70 L96.45,402.70 L97.21,402.70 L97.98,402.70 L98.74,402.70 L99.50,402.70 L100.26,402.70 L101.02,402.70 L101.79,402.70 L102.55,402.70 L103.31,402.70 L104.07,402.70 L104.83,402.70 L105.60,402.70 L106.36,402.70 L107.12,402.70 L107.88,402.70 L108.64,402.70 L109.40,402.70 L110.17,402.70 L110.93,402.70 L111.69,402.70 L112.45,402.70 L113.21,402.70 L113.98,402.70 L114.74,402.70 L115.50,402.70 L116.26,402.70 L117.02,402.70 L117.79,402.70 L118.55,402.70 L119.31,402.70 L120.07,402.70 L120.83,402.70 L121.60,402.70 L122.36,402.70 L123.12,402.70 L123.88,402.70 L124.64,402.70 L125.40,402.70 L126.17,402.70 L126.93,402.70 L127.69,402.70 L128.45,402.70 L129.21,402.70 L129.98,402.70 L130.74,402.70 L131.50,402.70 L132.26,402.70 L133.02,402.70 L133.79,402.70 L134.55,402.70 L135.31,402.70 L136.07,402.70 L136.83,402.70 L137.60,402.70 L138.36,402.70 L139.12,402.70 L139.88,402.70 L140.64,402.70 L141.40,402.70 L142.17,402.70 L142.93,402.70 L143.69,402.70 L144.45,402.70 L145.21,402.70 L145.98,402.70 L146.74,402.70 L147.50,402.70 L148.26,402.70 L149.02,402.70 L149.79,402.70 L150.55,402.70 L151.31,402.70 L152.07,402.70 L152.83,402.70 L153.60,402.70 L154.36,402.70 L155.12,402.70 L155.88,402.70 L156.64,402.70 L157.40,402.70 L158.17,402.70 L158.93,402.70 L159.69,402.70 L160.45,402.70 L161.21,402.70 L161.98,402.70 L162.74,402.70 L163.50,402.69 L164.26,402.69 L165.02,402.69 L165.79,402.69 L166.55,402.69 L167.31,402.69 L168.07,402.69 L168.83,402.69 L169.60,402.69 L170.36,402.69 L171.12,402.69 L171.88,402.69 L172.64,402.69 L173.40,402.69 L174.17,402.69 L174.93,402.69 L175.69,402.69 L176.45,402.69 L177.21,402.69 L177.98,402.68 L178.74,402.68 L179.50,402.68 L180.26,402.68 L181.02,402.68 L181.79,402.68 L182.55,402.68 L183.31,402.68 L184.07,402.68 L184.83,402.67 L185.60,402.67 L186.36,402.67 L187.12,402.67 L187.88,402.67 L188.64,402.66 L189.40,402.66 L190.17,402.66 L190.93,402.66 L191.69,402.66 L192.45,402.65 L193.21,402.65 L193.98,402.65 L194.74,402.64 L195.50,402.64 L196.26,402.64 L197.02,402.63 L197.79,402.63 L198.55,402.63 L199.31,402.62 L200.07,402.62 L200.83,402.61 L201.60,402.61 L202.36,402.60 L203.12,402.59 L203.88,402.59 L204.64,402.58 L205.40,402.57 L206.17,402.57 L206.93,402.56 L207.69,402.55 L208.45,402.54 L209.21,402.53 L209.98,402.52 L210.74,402.51 L211.50,402.50 L212.26,402.49 L213.02,402.47 L213.79,402.46 L214.55,402.45 L215.31,402.43 L216.07,402.42 L216.83,402.40 L217.60,402.38 L218.36,402.36 L219.12,402.34 L219.88,402.32 L220.64,402.30 L221.40,402.27 L222.17,402.25 L222.93,402.22 L223.69,402.19 L224.45,402.16 L225.21,402.13 L225.98,402.09 L226.74,402.06 L227.50,402.02 L228.26,401.98 L229.02,401.94 L229.79,401.89 L230.55,401.84 L231.31,401.79 L232.07,401.74 L232.83,401.68 L233.60,401.62 L234.36,401.55 L235.12,401.48 L235.88,401.41 L236.64,401.34 L237.40,401.26 L238.17,401.18 L238.93,401.10 L239.69,401.01 L240.45,400.93 L241.21,400.84 L241.98,400.74 L242.74,400.65 L243.50,400.55 L244.26,400.45 L245.02,400.35 L245.79,400.24 L246.55,400.13 L247.31,400.02 L248.07,399.91 L248.83,399.80 L249.60,399.68 L250.36,399.56 L251.12,399.44 L251.88,399.32 L252.64,399.19 L253.40,399.06 L254.17,398.93 L254.93,398.80 L255.69,398.66 L256.45,398.53 L257.21,398.39 L257.98,398.25 L258.74,398.10 L259.50,397.96 L260.26,397.81 L261.02,397.66 L261.79,397.51 L262.55,397.35 L263.31,397.19 L264.07,397.03 L264.83,396.87 L265.60,396.70 L266.36,396.54 L267.12,396.37 L267.88,396.19 L268.64,396.01 L269.40,395.83 L270.17,395.65 L270.93,395.46 L271.69,395.27 L272.45,395.07 L273.21,394.87 L273.98,394.66 L274.74,394.45 L275.50,394.24 L276.26,394.02 L277.02,393.79 L277.79,393.56 L278.55,393.32 L279.31,393.08 L280.07,392.83 L280.83,392.57 L281.60,392.31 L282.36,392.04 L283.12,391.76 L283.88,391.48 L284.64,391.20 L285.40,390.90 L286.17,390.60 L286.93,390.29 L287.69,389.97 L288.45,389.65 L289.21,389.32 L289.98,388.98 L290.74,388.63 L291.50,388.28 L292.26,387.92 L293.02,387.55 L293.79,387.17 L294.55,386.78 L295.31,386.39 L296.07,385.99 L296.83,385.57 L297.60,385.15 L298.36,384.72 L299.12,384.28 L299.88,383.83 L300.64,383.37 L301.40,382.90 L302.17,382.42 L302.93,381.93 L303.69,381.43 L304.45,380.91 L305.21,380.39 L305.98,379.85 L306.74,379.30 L307.50,378.73 L308.26,378.15 L309.02,377.56 L309.79,376.95 L310.55,376.33 L311.31,375.69 L312.07,375.03 L312.83,374.36 L313.60,373.67 L314.36,372.96 L315.12,372.24 L315.88,371.49 L316.64,370.72 L317.40,369.94 L318.17,369.13 L318.93,368.30 L319.69,367.44 L320.45,366.56 L321.21,365.66 L321.98,364.73 L322.74,363.77 L323.50,362.79 L324.26,361.77 L325.02,360.73 L325.79,359.65 L326.55,358.54 L327.31,357.40 L328.07,356.23 L328.83,355.02 L329.60,353.77 L330.36,352.49 L331.12,351.17 L331.88,349.81 L332.64,348.41 L333.40,346.98 L334.17,345.50 L334.93,343.98 L335.69,342.42 L336.45,340.81 L337.21,339.16 L337.98,337.46 L338.74,335.72 L339.50,333.93 L340.26,332.09 L341.02,330.20 L341.79,328.26 L342.55,326.28 L343.31,324.23 L344.07,322.14 L344.83,319.99 L345.60,317.79 L346.36,315.53 L347.12,313.22 L347.88,310.85 L348.64,308.42 L349.40,305.94 L350.17,303.39 L350.93,300.79 L351.69,298.12 L352.45,295.39 L353.21,292.61 L353.98,289.76 L354.74,286.84 L355.50,283.87 L356.26,280.83 L357.02,277.73 L357.79,274.56 L358.55,271.33 L359.31,268.04 L360.07,264.68 L360.83,261.26 L361.60,257.78 L362.36,254.23 L363.12,250.62 L363.88,246.95 L364.64,243.21 L365.40,239.42 L366.17,235.56 L366.93,231.65 L367.69,227.68 L368.45,223.65 L369.21,219.56 L369.98,215.42 L370.74,211.23 L371.50,206.98 L372.26,202.69 L373.02,198.35 L373.79,193.97 L374.55,189.54 L375.31,185.07 L376.07,180.56 L376.83,176.02 L377.60,171.45 L378.36,166.84 L379.12,162.21 L379.88,157.56 L380.64,152.89 L381.40,148.21 L382.17,143.51 L382.93,138.81 L383.69,134.10 L384.45,129.39 L385.21,124.69 L385.98,120.00 L386.74,115.33 L387.50,110.67" stroke="#ff0000" stroke-width="1.8" stroke-dasharray="4.3 1.2"/>
<path d="M83.50,402.70 L84.26,402.70 L85.02,402.69 L85.79,402.67 L86.55,402.65 L87.31,402.62 L88.07,402.59 L88.83,402.55 L89.60,402.50 L90.36,402.45 L91.12,402.39 L91.88,402.33 L92.64,402.26 L93.40,402.18 L94.17,402.10 L94.93,402.01 L95.69,401.92 L96.45,401.82 L97.21,401.71 L97.98,401.60 L98.74,401.48 L99.50,401.35 L100.26,401.22 L101.02,401.08 L101.79,400.94 L102.55,400.79 L103.31,400.64 L104.07,400.48 L104.83,400.31 L105.60,400.14 L106.36,399.96 L107.12,399.77 L107.88,399.58 L108.64,399.38 L109.40,399.18 L110.17,398.97 L110.93,398.76 L111.69,398.54 L112.45,398.31 L113.21,398.08 L113.98,397.84 L114.74,397.60 L115.50,397.35 L116.26,397.09 L117.02,396.83 L117.79,396.57 L118.55,396.30 L119.31,396.02 L120.07,395.73 L120.83,395.44 L121.60,395.15 L122.36,394.85 L123.12,394.54 L123.88,394.23 L124.64,393.91 L125.40,393.59 L126.17,393.26 L126.93,392.93 L127.69,392.59 L128.45,392.25 L129.21,391.90 L129.98,391.54 L130.74,391.18 L131.50,390.82 L132.26,390.44 L133.02,390.07 L133.79,389.69 L134.55,389.30 L135.31,388.91 L136.07,388.51 L136.83,388.11 L137.60,387.70 L138.36,387.29 L139.12,386.87 L139.88,386.45 L140.64,386.02 L141.40,385.59 L142.17,385.15 L142.93,384.71 L143.69,384.26 L144.45,383.81 L145.21,383.35 L145.98,382.89 L146.74,382.42 L147.50,381.95 L148.26,381.48 L149.02,381.00 L149.79,380.51 L150.55,380.02 L151.31,379.53 L152.07,379.03 L152.83,378.53 L153.60,378.02 L154.36,377.51 L155.12,376.99 L155.88,376.47 L156.64,375.95 L157.40,375.42 L158.17,374.89 L158.93,374.35 L159.69,373.81 L160.45,373.26 L161.21,372.72 L161.98,372.16 L162.74,371.61 L163.50,371.05 L164.26,370.48 L165.02,369.91 L165.79,369.34 L166.55,368.76 L167.31,368.19 L168.07,367.60 L168.83,367.02 L169.60,366.43 L170.36,365.83 L171.12,365.24 L171.88,364.64 L172.64,364.03 L173.40,363.42 L174.17,362.81 L174.93,362.20 L175.69,361.58 L176.45,360.97 L177.21,360.34 L177.98,359.72 L178.74,359.09 L179.50,358.46 L180.26,357.82 L181.02,357.19 L181.79,356.55 L182.55,355.91 L183.31,355.26 L184.07,354.61 L184.83,353.96 L185.60,353.31 L186.36,352.66 L187.12,352.00 L187.88,351.34 L188.64,350.68 L189.40,350.02 L190.17,349.35 L190.93,348.68 L191.69,348.01 L192.45,347.34 L193.21,346.67 L193.98,345.99 L194.74,345.31 L195.50,344.64 L196.26,343.96 L197.02,343.27 L197.79,342.59 L198.55,341.91 L199.31,341.22 L200.07,340.53 L200.83,339.84 L201.60,339.15 L202.36,338.46 L203.12,337.77 L203.88,337.08 L204.64,336.38 L205.40,335.69 L206.17,334.99 L206.93,334.30 L207.69,333.60 L208.45,332.90 L209.21,332.20 L209.98,331.50 L210.74,330.81 L211.50,330.11 L212.26,329.41 L213.02,328.71 L213.79,328.01 L214.55,327.31 L215.31,326.61 L216.07,325.91 L216.83,325.21 L217.60,324.51 L218.36,323.81 L219.12,323.11 L219.88,322.41 L220.64,321.72 L221.40,321.02 L222.17,320.32 L222.93,319.63 L223.69,318.94 L224.45,318.24 L225.21,317.55 L225.98,316.86 L226.74,316.17 L227.50,315.48 L228.26,314.79 L229.02,314.11 L229.79,313.42 L230.55,312.74 L231.31,312.06 L232.07,311.38 L232.83,310.70 L233.60,310.03 L234.36,309.35 L235.12,308.68 L235.88,308.01 L236.64,307.35 L237.40,306.68 L238.17,306.02 L238.93,305.36 L239.69,304.70 L240.45,304.05 L241.21,303.40 L241.98,302.75 L242.74,302.11 L243.50,301.46 L244.26,300.83 L245.02,300.19 L245.79,299.56 L246.55,298.93 L247.31,298.30 L248.07,297.68 L248.83,297.06 L249.60,296.45 L250.36,295.84 L251.12,295.23 L251.88,294.63 L252.64,294.03 L253.40,293.44 L254.17,292.85 L254.93,292.27 L255.69,291.69 L256.45,291.11 L257.21,290.54 L257.98,289.98 L258.74,289.42 L259.50,288.86 L260.26,288.31 L261.02,287.77 L261.79,287.23 L262.55,286.70 L263.31,286.17 L264.07,285.65 L264.83,285.13 L265.60,284.62 L266.36,284.12 L267.12,283.62 L267.88,283.13 L268.64,282.64 L269.40,282.17 L270.17,281.69 L270.93,281.23 L271.69,280.77 L272.45,280.32 L273.21,279.88 L273.98,279.44 L274.74,279.01 L275.50,278.59 L276.26,278.18 L277.02,277.77 L277.79,277.38 L278.55,276.99 L279.31,276.61 L280.07,276.23 L280.83,275.87 L281.60,275.51 L282.36,275.16 L283.12,274.83 L283.88,274.50 L284.64,274.18 L285.40,273.86 L286.17,273.56 L286.93,273.27 L287.69,272.99 L288.45,272.71 L289.21,272.45 L289.98,272.19 L290.74,271.95 L291.50,271.72 L292.26,271.49 L293.02,271.28 L293.79,271.08 L294.55,270.89 L295.31,270.71 L296.07,270.54 L296.83,270.38 L297.60,270.24 L298.36,270.10 L299.12,269.98 L299.88,269.87 L300.64,269.77 L301.40,269.69 L302.17,269.61 L302.93,269.55 L303.69,269.50 L304.45,269.46 L305.21,269.44 L305.98,269.43 L306.74,269.43 L307.50,269.45 L308.26,269.48 L309.02,269.53 L309.79,269.58 L310.55,269.66 L311.31,269.74 L312.07,269.84 L312.83,269.96 L313.60,270.09 L314.36,270.24 L315.12,270.40 L315.88,270.57 L316.64,270.76 L317.40,270.97 L318.17,271.19 L318.93,271.43 L319.69,271.69 L320.45,271.96 L321.21,272.25 L321.98,272.55 L322.74,272.88 L323.50,273.21 L324.26,273.57 L325.02,273.95 L325.79,274.34 L326.55,274.75 L327.31,275.18 L328.07,275.62 L328.83,276.09 L329.60,276.57 L330.36,277.08 L331.12,277.60 L331.88,278.14 L332.64,278.70 L333.40,279.28 L334.17,279.88 L334.93,280.50 L335.69,281.15 L336.45,281.81 L337.21,282.49 L337.98,283.20 L338.74,283.92 L339.50,284.67 L340.26,285.44 L341.02,286.23 L341.79,287.04 L342.55,287.88 L343.31,288.74 L344.07,289.62 L344.83,290.53 L345.60,291.46 L346.36,292.41 L347.12,293.38 L347.88,294.39 L348.64,295.41 L349.40,296.46 L350.17,297.54 L350.93,298.64 L351.69,299.76 L352.45,300.91 L353.21,302.09 L353.98,303.29 L354.74,304.52 L355.50,305.78 L356.26,307.07 L357.02,308.38 L357.79,309.72 L358.55,311.08 L359.31,312.48 L360.07,313.90 L360.83,315.36 L361.60,316.84 L362.36,318.35 L363.12,319.89 L363.88,321.46 L364.64,323.06 L365.40,324.70 L366.17,326.36 L366.93,328.05 L367.69,329.78 L368.45,331.54 L369.21,333.33 L369.98,335.15 L370.74,337.00 L371.50,338.89 L372.26,340.81 L373.02,342.77 L373.79,344.76 L374.55,346.78 L375.31,348.84 L376.07,350.93 L376.83,353.06 L377.60,355.23 L378.36,357.43 L379.12,359.66 L379.88,361.94 L380.64,364.25 L381.40,366.60 L382.17,368.99 L382.93,371.41 L383.69,373.88 L384.45,376.38 L385.21,378.92 L385.98,381.51 L386.74,384.13 L387.50,386.79" stroke="#00ff00" stroke-width="1.8" stroke-dasharray="4.4 1.2 2.0 1.2"/>
<path d="M83.50,402.70 L84.25,402.70 L85.00,402.70 L85.76,402.70 L86.51,402.70 L87.26,402.70 L88.01,402.69 L88.76,402.69 L89.52,402.69 L90.27,402.69 L91.02,402.68 L91.77,402.68 L92.52,402.67 L93.27,402.67 L94.03,402.67 L94.78,402.66 L95.53,402.66 L96.28,402.65 L97.03,402.64 L97.79,402.64 L98.54,402.63 L99.29,402.62 L100.04,402.62 L100.79,402.61 L101.55,402.60 L102.30,402.60 L103.05,402.59 L103.80,402.58 L104.55,402.57 L105.30,402.56 L106.06,402.55 L106.81,402.54 L107.56,402.53 L108.31,402.52 L109.06,402.51 L109.82,402.50 L110.57,402.49 L111.32,402.47 L112.07,402.45 L112.82,402.43 L113.58,402.39 L114.33,402.36 L115.08,402.32 L115.83,402.28 L116.58,402.24 L117.33,402.19 L118.09,402.14 L118.84,402.08 L119.59,402.03 L120.34,401.97 L121.09,401.91 L121.85,401.85 L122.60,401.79 L123.35,401.73 L124.10,401.67 L124.85,401.61 L125.61,401.55 L126.36,401.48 L127.11,401.42 L127.86,401.36 L128.61,401.30 L129.36,401.25 L130.12,401.19 L130.87,401.14 L131.62,401.08 L132.37,401.02 L133.12,400.96 L133.88,400.91 L134.63,400.85 L135.38,400.79 L136.13,400.73 L136.88,400.66 L137.64,400.60 L138.39,400.54 L139.14,400.48 L139.89,400.41 L140.64,400.35 L141.39,400.28 L142.15,400.22 L142.90,400.15 L143.65,400.09 L144.40,400.02 L145.15,399.96 L145.91,399.89 L146.66,399.82 L147.41,399.76 L148.16,399.69 L148.91,399.62 L149.67,399.55 L150.42,399.49 L151.17,399.42 L151.92,399.35 L152.67,399.28 L153.42,399.21 L154.18,399.15 L154.93,399.08 L155.68,399.01 L156.43,398.94 L157.18,398.87 L157.94,398.80 L158.69,398.73 L159.44,398.66 L160.19,398.59 L160.94,398.52 L161.70,398.45 L162.45,398.38 L163.20,398.31 L163.95,398.23 L164.70,398.16 L165.45,398.09 L166.21,398.01 L166.96,397.94 L167.71,397.86 L168.46,397.79 L169.21,397.71 L169.97,397.64 L170.72,397.56 L171.47,397.49 L172.22,397.41 L172.97,397.34 L173.73,397.26 L174.48,397.19 L175.23,397.11 L175.98,397.04 L176.73,396.96 L177.48,396.89 L178.24,396.82 L178.99,396.74 L179.74,396.67 L180.49,396.59 L181.24,396.52 L182.00,396.45 L182.75,396.38 L183.50,396.30 L184.25,396.23 L185.00,396.16 L185.76,396.09 L186.51,396.02 L187.26,395.95 L188.01,395.88 L188.76,395.81 L189.52,395.74 L190.27,395.68 L191.02,395.61 L191.77,395.54 L192.52,395.47 L193.27,395.40 L194.03,395.34 L194.78,395.27 L195.53,395.20 L196.28,395.13 L197.03,395.06 L197.79,395.00 L198.54,394.93 L199.29,394.86 L200.04,394.79 L200.79,394.73 L201.55,394.66 L202.30,394.60 L203.05,394.53 L203.80,394.46 L204.55,394.40 L205.30,394.34 L206.06,394.27 L206.81,394.21 L207.56,394.15 L208.31,394.09 L209.06,394.03 L209.82,393.97 L210.57,393.92 L211.32,393.86 L212.07,393.80 L212.82,393.75 L213.58,393.70 L214.33,393.65 L215.08,393.59 L215.83,393.54 L216.58,393.49 L217.33,393.44 L218.09,393.38 L218.84,393.33 L219.59,393.27 L220.34,393.22 L221.09,393.16 L221.85,393.11 L222.60,393.05 L223.35,393.00 L224.10,392.94 L224.85,392.89 L225.61,392.84 L226.36,392.79 L227.11,392.74 L227.86,392.69 L228.61,392.64 L229.36,392.60 L230.12,392.56 L230.87,392.52 L231.62,392.48 L232.37,392.45 L233.12,392.42 L233.88,392.39 L234.63,392.36 L235.38,392.34 L236.13,392.33 L236.88,392.31 L237.64,392.30 L238.39,392.30 L239.14,392.30 L239.89,392.30 L240.64,392.31 L241.39,392.31 L242.15,392.32 L242.90,392.33 L243.65,392.34 L244.40,392.35 L245.15,392.36 L245.91,392.37 L246.66,392.39 L247.41,392.40 L248.16,392.42 L248.91,392.44 L249.67,392.46 L250.42,392.48 L251.17,392.50 L251.92,392.52 L252.67,392.54 L253.42,392.56 L254.18,392.58 L254.93,392.60 L255.68,392.62 L256.43,392.64 L257.18,392.67 L257.94,392.70 L258.69,392.73 L259.44,392.76 L260.19,392.80 L260.94,392.83 L261.70,392.87 L262.45,392.92 L263.20,392.96 L263.95,393.00 L264.70,393.05 L265.45,393.10 L266.21,393.15 L266.96,393.20 L267.71,393.26 L268.46,393.32 L269.21,393.38 L269.97,393.44 L270.72,393.50 L271.47,393.56 L272.22,393.63 L272.97,393.71 L273.73,393.79 L274.48,393.89 L275.23,393.99 L275.98,394.10 L276.73,394.22 L277.48,394.34 L278.24,394.47 L278.99,394.60 L279.74,394.73 L280.49,394.86 L281.24,395.00 L282.00,395.13 L282.75,395.27 L283.50,395.40 L284.25,395.53 L285.00,395.65 L285.76,395.78 L286.51,395.91 L287.26,396.05 L288.01,396.18 L288.76,396.31 L289.52,396.45 L290.27,396.58 L291.02,396.72 L291.77,396.86 L292.52,397.00 L293.27,397.14 L294.03,397.28 L294.78,397.42 L295.53,397.56 L296.28,397.71 L297.03,397.85 L297.79,398.00 L298.54,398.14 L299.29,398.29 L300.04,398.44 L300.79,398.59 L301.55,398.74 L302.30,398.89 L303.05,399.04 L303.80,399.19 L304.55,399.34 L305.30,399.50 L306.06,399.65 L306.81,399.81 L307.56,399.96 L308.31,400.12 L309.06,400.28 L309.82,400.44 L310.57,400.60 L311.32,400.77 L312.07,400.94 L312.82,401.12 L313.58,401.29 L314.33,401.47 L315.08,401.64 L315.83,401.82 L316.58,401.99 L317.33,402.16 L318.09,402.33 L318.84,402.50 L319.59,402.66 L320.34,402.81 L321.09,402.96 L321.85,403.11 L322.60,403.26 L323.35,403.41 L324.10,403.55 L324.85,403.70 L325.61,403.84 L326.36,403.99 L327.11,404.14 L327.86,404.28 L328.61,404.43 L329.36,404.58 L330.12,404.72 L330.87,404.87 L331.62,405.02 L332.37,405.16 L333.12,405.31 L333.88,405.46 L334.63,405.61 L335.38,405.77 L336.13,405.92 L336.88,406.08 L337.64,406.24 L338.39,406.40 L339.14,406.58 L339.89,406.76 L340.64,406.94 L341.39,407.13 L342.15,407.31 L342.90,407.50 L343.65,407.68 L344.40,407.86 L345.15,408.04 L345.91,408.21 L346.66,408.38 L347.41,408.54 L348.16,408.68 L348.91,408.82 L349.67,408.95 L350.42,409.06 L351.17,409.18 L351.92,409.30 L352.67,409.42 L353.42,409.54 L354.18,409.66 L354.93,409.76 L355.68,409.87 L356.43,409.96 L357.18,410.04 L357.94,410.10 L358.69,410.15 L359.44,410.19 L360.19,410.20 L360.94,410.20 L361.70,410.19 L362.45,410.18 L363.20,410.17 L363.95,410.15 L364.70,410.13 L365.45,410.11 L366.21,410.08 L366.96,410.05 L367.71,410.02 L368.46,409.98 L369.21,409.94 L369.97,409.90 L370.72,409.84 L371.47,409.75 L372.22,409.62 L372.97,409.47 L373.73,409.29 L374.48,409.09 L375.23,408.87 L375.98,408.64 L376.73,408.39 L377.48,408.12 L378.24,407.76 L378.99,407.34 L379.74,406.87 L380.49,406.36 L381.24,405.82 L382.00,405.21 L382.75,404.53 L383.50,403.80" stroke="#0000ff" stroke-width="2" stroke-dasharray="9.7 8.7" stroke-dashoffset="1.2"/>
<path d="M83.50,402.70 L84.25,402.70 L85.00,402.70 L85.76,402.70 L86.51,402.70 L87.26,402.70 L88.01,402.70 L88.76,402.70 L89.52,402.70 L90.27,402.70 L91.02,402.70 L91.77,402.70 L92.52,402.70 L93.27,402.70 L94.03,402.70 L94.78,402.70 L95.53,402.70 L96.28,402.70 L97.03,402.70 L97.79,402.70 L98.54,402.70 L99.29,402.70 L100.04,402.70 L100.79,402.70 L101.55,402.70 L102.30,402.70 L103.05,402.70 L103.80,402.70 L104.55,402.70 L105.30,402.70 L106.06,402.70 L106.81,402.70 L107.56,402.70 L108.31,402.70 L109.06,402.70 L109.82,402.70 L110.57,402.70 L111.32,402.70 L112.07,402.70 L112.82,402.70 L113.58,402.70 L114.33,402.70 L115.08,402.70 L115.83,402.70 L116.58,402.70 L117.33,402.70 L118.09,402.70 L118.84,402.70 L119.59,402.70 L120.34,402.70 L121.09,402.70 L121.85,402.70 L122.60,402.70 L123.35,402.70 L124.10,402.70 L124.85,402.70 L125.61,402.70 L126.36,402.70 L127.11,402.70 L127.86,402.70 L128.61,402.70 L129.36,402.70 L130.12,402.70 L130.87,402.70 L131.62,402.70 L132.37,402.70 L133.12,402.70 L133.88,402.70 L134.63,402.70 L135.38,402.70 L136.13,402.70 L136.88,402.70 L137.64,402.70 L138.39,402.70 L139.14,402.70 L139.89,402.70 L140.64,402.70 L141.39,402.70 L142.15,402.70 L142.90,402.70 L143.65,402.70 L144.40,402.70 L145.15,402.70 L145.91,402.70 L146.66,402.70 L147.41,402.70 L148.16,402.70 L148.91,402.70 L149.67,402.70 L150.42,402.70 L151.17,402.70 L151.92,402.70 L152.67,402.70 L153.42,402.70 L154.18,402.70 L154.93,402.70 L155.68,402.70 L156.43,402.70 L157.18,402.70 L157.94,402.70 L158.69,402.70 L159.44,402.70 L160.19,402.70 L160.94,402.70 L161.70,402.70 L162.45,402.70 L163.20,402.70 L163.95,402.70 L164.70,402.70 L165.45,402.70 L166.21,402.70 L166.96,402.70 L167.71,402.70 L168.46,402.70 L169.21,402.70 L169.97,402.70 L170.72,402.70 L171.47,402.70 L172.22,402.70 L172.97,402.70 L173.73,402.70 L174.48,402.70 L175.23,402.70 L175.98,402.70 L176.73,402.70 L177.48,402.70 L178.24,402.70 L178.99,402.70 L179.74,402.70 L180.49,402.70 L181.24,402.70 L182.00,402.70 L182.75,402.70 L183.50,402.70 L184.25,402.70 L185.00,402.70 L185.76,402.70 L186.51,402.70 L187.26,402.70 L188.01,402.70 L188.76,402.70 L189.52,402.70 L190.27,402.70 L191.02,402.70 L191.77,402.70 L192.52,402.70 L193.27,402.70 L194.03,402.70 L194.78,402.70 L195.53,402.70 L196.28,402.70 L197.03,402.70 L197.79,402.70 L198.54,402.70 L199.29,402.70 L200.04,402.70 L200.79,402.70 L201.55,402.70 L202.30,402.70 L203.05,402.70 L203.80,402.70 L204.55,402.70 L205.30,402.70 L206.06,402.70 L206.81,402.70 L207.56,402.71 L208.31,402.71 L209.06,402.71 L209.82,402.71 L210.57,402.71 L211.32,402.71 L212.07,402.71 L212.82,402.71 L213.58,402.72 L214.33,402.72 L215.08,402.72 L215.83,402.72 L216.58,402.72 L217.33,402.73 L218.09,402.73 L218.84,402.73 L219.59,402.73 L220.34,402.74 L221.09,402.74 L221.85,402.74 L222.60,402.74 L223.35,402.75 L224.10,402.75 L224.85,402.75 L225.61,402.76 L226.36,402.76 L227.11,402.76 L227.86,402.77 L228.61,402.77 L229.36,402.77 L230.12,402.78 L230.87,402.78 L231.62,402.78 L232.37,402.79 L233.12,402.79 L233.88,402.80 L234.63,402.80 L235.38,402.80 L236.13,402.81 L236.88,402.81 L237.64,402.82 L238.39,402.82 L239.14,402.83 L239.89,402.83 L240.64,402.83 L241.39,402.84 L242.15,402.84 L242.90,402.85 L243.65,402.85 L244.40,402.86 L245.15,402.86 L245.91,402.87 L246.66,402.88 L247.41,402.88 L248.16,402.89 L248.91,402.89 L249.67,402.90 L250.42,402.90 L251.17,402.91 L251.92,402.92 L252.67,402.93 L253.42,402.94 L254.18,402.96 L254.93,402.97 L255.68,402.99 L256.43,403.00 L257.18,403.02 L257.94,403.04 L258.69,403.06 L259.44,403.08 L260.19,403.11 L260.94,403.13 L261.70,403.15 L262.45,403.18 L263.20,403.20 L263.95,403.23 L264.70,403.26 L265.45,403.28 L266.21,403.31 L266.96,403.34 L267.71,403.36 L268.46,403.39 L269.21,403.42 L269.97,403.45 L270.72,403.48 L271.47,403.51 L272.22,403.53 L272.97,403.56 L273.73,403.59 L274.48,403.62 L275.23,403.64 L275.98,403.67 L276.73,403.69 L277.48,403.72 L278.24,403.74 L278.99,403.77 L279.74,403.79 L280.49,403.82 L281.24,403.84 L282.00,403.86 L282.75,403.89 L283.50,403.92 L284.25,403.94 L285.00,403.97 L285.76,404.00 L286.51,404.03 L287.26,404.05 L288.01,404.08 L288.76,404.11 L289.52,404.14 L290.27,404.16 L291.02,404.19 L291.77,404.21 L292.52,404.24 L293.27,404.26 L294.03,404.28 L294.78,404.30 L295.53,404.32 L296.28,404.34 L297.03,404.36 L297.79,404.37 L298.54,404.38 L299.29,404.39 L300.04,404.40 L300.79,404.41 L301.55,404.41 L302.30,404.42 L303.05,404.43 L303.80,404.43 L304.55,404.44 L305.30,404.44 L306.06,404.45 L306.81,404.45 L307.56,404.46 L308.31,404.46 L309.06,404.47 L309.82,404.47 L310.57,404.47 L311.32,404.48 L312.07,404.48 L312.82,404.48 L313.58,404.49 L314.33,404.49 L315.08,404.49 L315.83,404.49 L316.58,404.50 L317.33,404.50 L318.09,404.50 L318.84,404.50 L319.59,404.50 L320.34,404.50 L321.09,404.50 L321.85,404.50 L322.60,404.49 L323.35,404.49 L324.10,404.48 L324.85,404.48 L325.61,404.47 L326.36,404.46 L327.11,404.45 L327.86,404.44 L328.61,404.43 L329.36,404.42 L330.12,404.41 L330.87,404.39 L331.62,404.38 L332.37,404.36 L333.12,404.35 L333.88,404.34 L334.63,404.32 L335.38,404.30 L336.13,404.29 L336.88,404.27 L337.64,404.25 L338.39,404.24 L339.14,404.22 L339.89,404.20 L340.64,404.18 L341.39,404.16 L342.15,404.14 L342.90,404.11 L343.65,404.09 L344.40,404.06 L345.15,404.03 L345.91,403.99 L346.66,403.96 L347.41,403.92 L348.16,403.88 L348.91,403.85 L349.67,403.81 L350.42,403.76 L351.17,403.72 L351.92,403.68 L352.67,403.64 L353.42,403.59 L354.18,403.55 L354.93,403.50 L355.68,403.46 L356.43,403.41 L357.18,403.37 L357.94,403.32 L358.69,403.28 L359.44,403.23 L360.19,403.19 L360.94,403.14 L361.70,403.10 L362.45,403.05 L363.20,403.00 L363.95,402.95 L364.70,402.89 L365.45,402.84 L366.21,402.79 L366.96,402.73 L367.71,402.68 L368.46,402.63 L369.21,402.58 L369.97,402.53 L370.72,402.48 L371.47,402.43 L372.22,402.39 L372.97,402.34 L373.73,402.30 L374.48,402.26 L375.23,402.22 L375.98,402.18 L376.73,402.13 L377.48,402.09 L378.24,402.06 L378.99,402.02 L379.74,401.98 L380.49,401.94 L381.24,401.91 L382.00,401.87 L382.75,401.83 L383.50,401.80" stroke="#cc6a14" stroke-width="2.4" stroke-dasharray="2.1 1.3"/>
</g>
<!-- frames -->
<g fill="none" stroke="#b8b8b8" stroke-width="1" shape-rendering="crispEdges">
<path d="M83.5,37.5 H387.5 V225.5" />
<path d="M83.5,231.5 H387.5" stroke="#c0c0c0"/>
<path d="M387.5,231.5 V420" />
<path d="M83.5,225.5 H387.5" stroke="#8c8c8c"/>
<path d="M83.5,37.5 V225.5 M83.5,231.5 V420" stroke="#999"/>
</g>
<line x1="83" y1="420.3" x2="388" y2="420.3" stroke="#909090" stroke-width="0.9"/>
<!-- ticks -->
<g stroke="#b4b4b4" stroke-width="1">
<line x1="84" y1="135.5" x2="86.5" y2="135.5"/>
<line x1="84" y1="334.3" x2="86.5" y2="334.3"/>
<line x1="84" y1="265.8" x2="86.5" y2="265.8"/>
<line x1="192.5" y1="225" x2="192.5" y2="222.5" stroke="#707070"/>
<line x1="302.5" y1="225" x2="302.5" y2="222.5" stroke="#707070"/>
<line x1="192.5" y1="419.5" x2="192.5" y2="416.8" stroke="#808080"/>
<line x1="302.5" y1="419.5" x2="302.5" y2="416.8" stroke="#808080"/>
<line x1="83.5" y1="419.5" x2="83.5" y2="416.8" stroke="#777"/>
</g>
<!-- tick labels -->
<g class="tk" text-anchor="end">
<text x="80.4" y="50.1">1.0</text>
<text x="80.6" y="140.1">0.5</text>
<text x="81.0" y="230.0">0</text>
<text x="80.6" y="270.2">0.08</text>
<text x="80.6" y="338.8">0.04</text>
<text x="81.0" y="407.4">0</text>
</g>
<g class="tk" text-anchor="middle">
<text x="83" y="433.5">0</text>
<text x="192.3" y="433.5">1</text>
<text x="302.3" y="433.5">2</text>
</g>
<!-- axis labels -->
<text class="it" x="235.3" y="459.6" font-size="21" text-anchor="middle">x</text>
<g transform="translate(55.7,131.6) rotate(-90)">
<text class="it" x="0" y="0" font-size="21" text-anchor="middle">θ</text>
<path d="M-2.5,-15.9 L0.95,-18.7 L3.6,-15.9" fill="none" stroke="#000" stroke-width="1.2"/>
</g>
<g transform="translate(49,325.9) rotate(-90)">
<text class="it" x="0" y="0" font-size="20.5" text-anchor="middle">δθ</text>
<path d="M3.0,-16 L5.7,-18.8 L8.4,-16" fill="none" stroke="#000" stroke-width="1.2"/>
</g>
<!-- legend -->
<rect x="101.5" y="90.5" width="85.5" height="119.3" rx="2.5" ry="2.5" fill="#fff" stroke="#333" stroke-width="1"/>
<g fill="none">
<line x1="107.9" y1="108.3" x2="135.2" y2="108.3" stroke="#000" stroke-width="2.7"/>
<line x1="107.9" y1="130.5" x2="134" y2="130.5" stroke="#ff0000" stroke-width="1.3" stroke-dasharray="4.1 1.3"/>
<line x1="108.1" y1="152.3" x2="132.8" y2="152.3" stroke="#00ff00" stroke-width="1.7" stroke-dasharray="1.7 1.7 3.9 1.6"/>
<line x1="108.1" y1="174.2" x2="130.4" y2="174.2" stroke="#0000ff" stroke-width="1.8" stroke-dasharray="8.5 5.3"/>
<line x1="108.1" y1="196.7" x2="133.8" y2="196.7" stroke="#cc6a14" stroke-width="1.5" stroke-dasharray="1.7 1.6"/>
</g>
<g font-size="13.5" stroke="#000" stroke-width="0.2">
<text class="it" x="138.25" y="110.5">θ</text><path d="M139.90,100.50 L141.60,98.40 L143.30,100.50" fill="none" stroke="#000" stroke-width="0.9"/><text x="145.0" y="112.5" font-size="9.2">exact</text><text x="164.9" y="110.5">(<tspan class="it">x</tspan>)</text>
<text class="it" x="138.25" y="132.5">θ</text><path d="M139.90,122.50 L141.60,120.40 L143.30,122.50" fill="none" stroke="#000" stroke-width="0.9"/><text x="145.0" y="134.5" font-size="9.2">S</text><text x="150.3" y="132.5">(<tspan class="it">x</tspan>)</text>
<text x="138.2" y="154.5">[</text><text class="it" x="142.7" y="154.5">θ</text><path d="M144.30,144.50 L146.00,142.40 L147.70,144.50" fill="none" stroke="#000" stroke-width="0.9"/><text x="148.6" y="156.7" font-size="9.2">0</text><text x="153.3" y="154.5">]</text><text x="157.2" y="149.3" font-size="9.2">0</text><text x="157.2" y="157.5" font-size="9.2">0</text><text x="163.6" y="154.5">(<tspan class="it">x</tspan>)</text>
<text x="138.2" y="176.5">[</text><text class="it" x="142.7" y="176.5">θ</text><path d="M144.30,166.50 L146.00,164.40 L147.70,166.50" fill="none" stroke="#000" stroke-width="0.9"/><text x="148.6" y="178.7" font-size="9.2">0</text><text x="153.3" y="176.5">]</text><text x="157.2" y="171.3" font-size="9.2">1</text><text x="157.2" y="179.5" font-size="9.2">1</text><text x="163.6" y="176.5">(<tspan class="it">x</tspan>)</text>
<text x="138.2" y="198.5">[</text><text class="it" x="142.7" y="198.5">θ</text><path d="M144.30,188.50 L146.00,186.40 L147.70,188.50" fill="none" stroke="#000" stroke-width="0.9"/><text x="148.6" y="200.7" font-size="9.2">0</text><text x="153.3" y="198.5">]</text><text x="157.2" y="193.3" font-size="9.2">2</text><text x="157.2" y="201.5" font-size="9.2">2</text><text x="163.6" y="198.5">(<tspan class="it">x</tspan>)</text>
</g>
</svg>
</body></html>
